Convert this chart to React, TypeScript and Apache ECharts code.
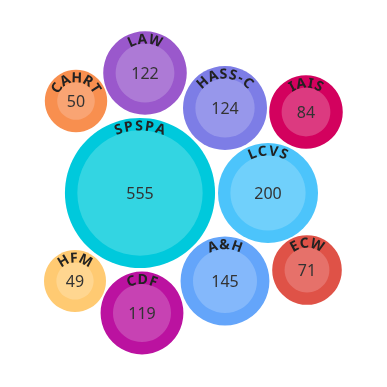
import React, { useEffect, useRef } from "react";
import * as echarts from "echarts";

const categories = ["SPSPA", "LCVS", "A&H", "HASS-C", "LAW", "CDF", "IAIS", "ECW", "CAHRT", "HFM"];
const values = [555, 200, 145, 124, 122, 119, 84, 71, 50, 49];
// bubble layout (packed) positions in axis units
const layoutX = [140, 268, 225, 225, 145, 142, 306, 307, 76, 75];
const layoutY = [193, 193, 281, 108, 73, 313, 112, 270, 101, 281];
const outerColors = ["#00c9dc", "#4cc4fb", "#64a5fa", "#7d7de6", "#9a58cc", "#bb12a0", "#d3015e", "#df5247", "#f88f4f", "#ffca72"];
const innerColors = ["#33d5e2", "#70d0fb", "#84b8fb", "#9797eb", "#ad7ad6", "#c742b3", "#dc3a80", "#e6716a", "#f9a473", "#ffd690"];

const LABEL_FONT = "bold 14px 'Noto Sans'";
let measureCtx: CanvasRenderingContext2D | null = null;
function charWidth(ch: string): number {
  if (!measureCtx) {
    const c = document.createElement("canvas");
    measureCtx = c.getContext("2d");
  }
  if (!measureCtx) return 8;
  measureCtx.font = LABEL_FONT;
  return measureCtx.measureText(ch).width;
}

export default function App() {
  const ref = useRef<HTMLDivElement>(null);
  useEffect(() => {
    if (!ref.current) return;
    const chart = echarts.init(ref.current, undefined, { renderer: "svg" });
    const data = categories.map((c, i) => [layoutX[i], layoutY[i], values[i], i]);
    chart.setOption({
      animation: false,
      grid: { left: 0, right: 0, top: 0, bottom: 0 },
      xAxis: { type: "value", min: 0, max: 387, show: false },
      yAxis: { type: "value", min: 0, max: 387, inverse: true, show: false },
      series: [
        {
          type: "custom",
          data,
          renderItem: (params: any, api: any) => {
            const x = api.value(0);
            const y = api.value(1);
            const v = api.value(2);
            const idx = api.value(3);
            const [cx, cy] = api.coord([x, y]);
            const unit = api.size([1, 1])[0];
            const inner = 2.66 * Math.sqrt(v) * unit;
            const outer = inner + 12.4 * unit;
            const name = categories[idx];
            const children: any[] = [
              { type: "circle", shape: { cx, cy, r: outer }, style: { fill: outerColors[idx] } },
              { type: "circle", shape: { cx, cy, r: inner }, style: { fill: innerColors[idx] } },
              {
                type: "text",
                style: {
                  text: String(v),
                  x: cx,
                  y: cy,
                  align: "center",
                  verticalAlign: "middle",
                  font: "16px 'Noto Sans'",
                  fill: "#333333",
                },
              },
            ];
            const R = outer - 7;
            const spacing = 2.4;
            const chars = name.split("");
            const widths = chars.map(charWidth);
            const total = widths.reduce((a, b) => a + b, 0) + spacing * (chars.length - 1);
            let pos = -total / 2;
            chars.forEach((ch, k) => {
              const mid = pos + widths[k] / 2;
              const th = mid / R;
              children.push({
                type: "text",
                x: cx + R * Math.sin(th),
                y: cy - R * Math.cos(th),
                rotation: -th,
                style: {
                  text: ch,
                  x: 0,
                  y: 0,
                  align: "center",
                  verticalAlign: "middle",
                  font: LABEL_FONT,
                  fill: "#222222",
                },
              });
              pos += widths[k] + spacing;
            });
            return { type: "group", children };
          },
        },
      ],
    });
    return () => chart.dispose();
  }, []);
  return <div ref={ref} style={{ position: "fixed", left: 0, top: 0, width: 387, height: 387 }} />;
}
